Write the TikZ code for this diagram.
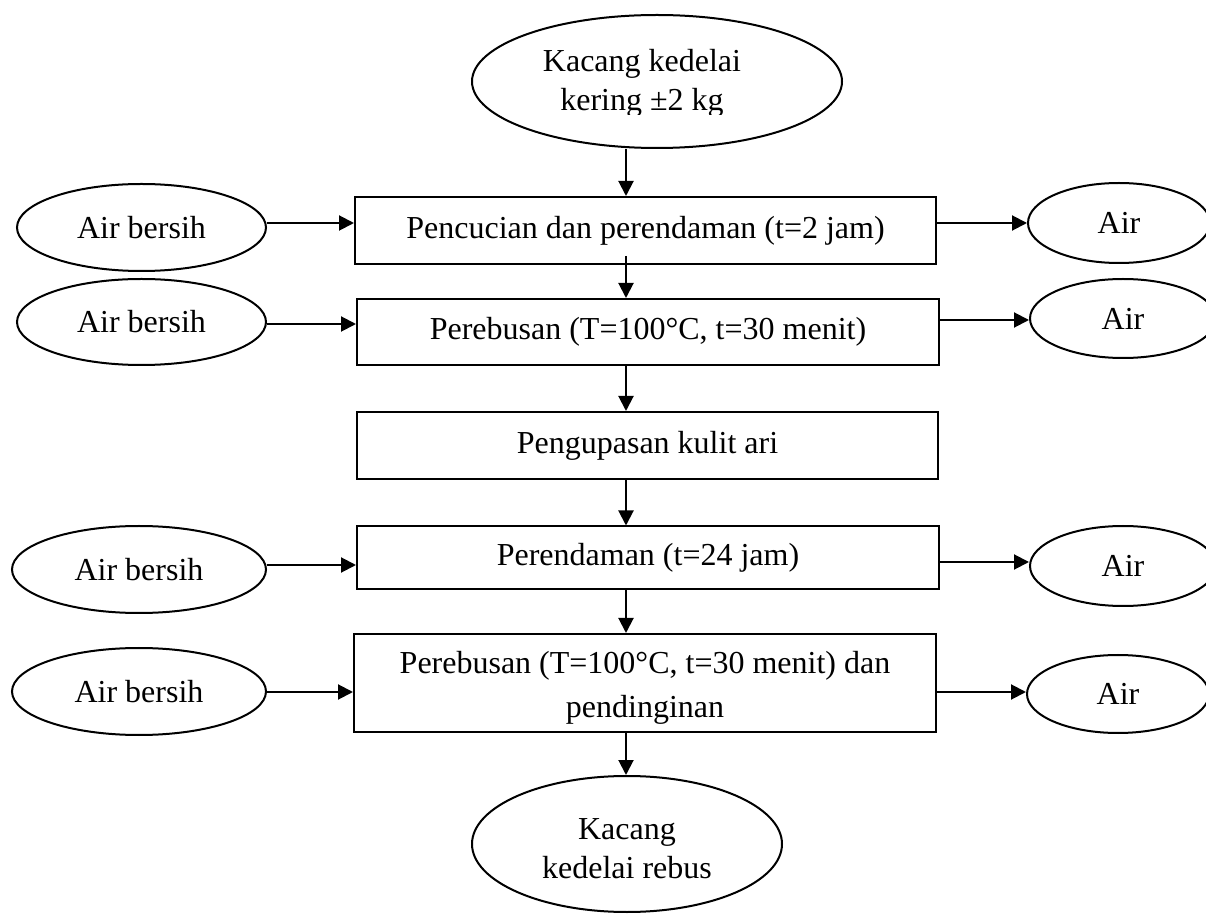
\documentclass[tikz,border=0pt]{standalone}
\usepackage{fontspec}
\setmainfont{Liberation Serif}
\usetikzlibrary{shapes.geometric,arrows.meta,calc}
\begin{document}
\begin{tikzpicture}[x=0.5pt,y=-0.5pt,
  every node/.style={font=\fontsize{16}{19}\selectfont},
  oval/.style={draw,ellipse,line width=1pt,inner sep=0pt,align=center},
  procbox/.style={draw,rectangle,line width=1pt,inner sep=0pt,align=center},
  txt/.style={align=center,inner sep=0pt},
  arr/.style={-{Triangle[length=7.5pt,width=7.5pt]},line width=1pt}]
\useasboundingbox (0,0) rectangle (1206,914);

% source and product
\node[oval,minimum width=185pt,minimum height=66.5pt] (src) at (657,81.5) {};
\begin{scope}
  \clip (400,0) rectangle (900,115);
  \node[txt,font=\fontsize{16}{19.5}\selectfont] (srct) at (642,83) {Kacang kedelai\\kering ±2 kg};
\end{scope}
\node[oval,minimum width=155pt,minimum height=68pt] (dst) at (627,844) {};
\node[txt,font=\fontsize{16}{19.5}\selectfont] (dstt) at (627,849) {Kacang\\kedelai rebus};

% process boxes
\node[procbox,minimum width=290.5pt,minimum height=33.5pt] (b1) at (645.5,230.5) {Pencucian dan perendaman (t=2 jam)};
\node[procbox,minimum width=291pt,minimum height=33pt] (b2) at (648,332) {Perebusan (T=100°C, t=30 menit)};
\node[procbox,minimum width=290.5pt,minimum height=33.5pt] (b3) at (647.5,445.5) {Pengupasan kulit ari};
\node[procbox,minimum width=291pt,minimum height=31.5pt] (b4) at (648,558) {Perendaman (t=24 jam)};
\node[procbox,minimum width=291pt,minimum height=49pt] (b5) at (645,683) {};
\node[txt,font=\fontsize{16}{22}\selectfont] (b5t) at (645,688) {Perebusan (T=100°C, t=30 menit) dan\\pendinginan};

% inputs
\node[oval,minimum width=124.5pt,minimum height=43.5pt] (l1) at (141.5,227.5) {Air bersih};
\node[oval,minimum width=124.5pt,minimum height=43pt] (l2) at (141.5,322) {Air bersih};
\node[oval,minimum width=127pt,minimum height=43.5pt] (l4) at (139,569.5) {Air bersih};
\node[oval,minimum width=127pt,minimum height=43.5pt] (l5) at (139,691.5) {Air bersih};

% outputs
\node[oval,minimum width=91pt,minimum height=40pt] (r1) at (1119,223) {Air};
\node[oval,minimum width=93pt,minimum height=39.5pt] (r2) at (1123,318.5) {Air};
\node[oval,minimum width=93pt,minimum height=40pt] (r4) at (1123,566) {Air};
\node[oval,minimum width=91pt,minimum height=39pt] (r5) at (1118,694) {Air};

% helper coordinates
\coordinate (vx) at (626,0);
\coordinate (y1) at (0,223);
\coordinate (y2l) at (0,324);
\coordinate (y2r) at (0,320);
\coordinate (y4l) at (0,565);
\coordinate (y4r) at (0,562);
\coordinate (y5) at (0,692);

% main flow
\draw[arr] (src.south -| vx) -- (b1.north -| vx);
\draw[arr] ($(b1.south -| vx)+(0,-9)$) -- (b2.north -| vx);
\draw[arr] (b2.south -| vx) -- (b3.north -| vx);
\draw[arr] (b3.south -| vx) -- (b4.north -| vx);
\draw[arr] (b4.south -| vx) -- (b5.north -| vx);
\draw[arr] (b5.south -| vx) -- (dst.north -| vx);

% inputs
\draw[arr] (l1.east |- y1) -- (b1.west |- y1);
\draw[arr] (l2.east |- y2l) -- (b2.west |- y2l);
\draw[arr] (l4.east |- y4l) -- (b4.west |- y4l);
\draw[arr] (l5.east |- y5) -- (b5.west |- y5);

% outputs
\draw[arr] (b1.east |- y1) -- (r1.west |- y1);
\draw[arr] (b2.east |- y2r) -- (r2.west |- y2r);
\draw[arr] (b4.east |- y4r) -- (r4.west |- y4r);
\draw[arr] (b5.east |- y5) -- (r5.west |- y5);
\end{tikzpicture}
\end{document}
